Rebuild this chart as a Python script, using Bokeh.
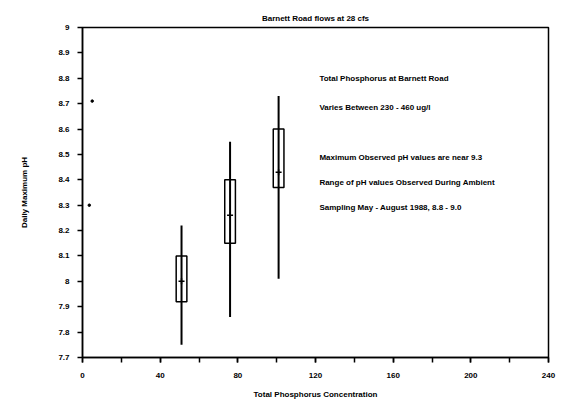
from bokeh.plotting import figure
from bokeh.models import FixedTicker, CustomJSTickFormatter, Label, ColumnDataSource
from bokeh.embed import file_html
from bokeh.resources import INLINE

# Data
tp_conc = [51, 76, 101]
ph_low = [7.75, 7.86, 8.01]
ph_q1 = [7.92, 8.15, 8.37]
ph_med = [8.00, 8.26, 8.43]
ph_q3 = [8.10, 8.40, 8.60]
ph_high = [8.22, 8.55, 8.73]

stray_x = [5, 3.5]
stray_y = [8.71, 8.30]

x_ticks = [0, 40, 80, 120, 160, 200, 240]
y_ticks = [7.7, 7.8, 7.9, 8.0, 8.1, 8.2, 8.3, 8.4, 8.5, 8.6, 8.7, 8.8, 8.9, 9.0]

notes = [
    ("Total Phosphorus at Barnett Road", 8.80),
    ("Varies Between 230 - 460 ug/l", 8.683),
    ("Maximum Observed pH values are near 9.3", 8.487),
    ("Range of pH values Observed During Ambient", 8.389),
    ("Sampling May - August 1988, 8.8 - 9.0", 8.291),
]

FONT = "Liberation Sans"

p = figure(width=566, height=404, output_backend="svg", toolbar_location=None,
           x_range=(0, 240), y_range=(7.7, 9.0),
           min_border_left=82, min_border_right=18, min_border_top=27, min_border_bottom=47,
           title="Barnett Road flows at 28 cfs")
p.title.align = "center"
p.title.text_font = FONT
p.title.text_font_size = "8px"
p.title.text_font_style = "bold"
p.title.text_color = "black"
p.title.offset = 0
p.title.standoff = 9

p.grid.visible = False
p.background_fill_color = "white"
p.border_fill_color = "white"
p.outline_line_color = "black"
p.outline_line_width = 1.5

p.xaxis.ticker = FixedTicker(ticks=x_ticks, minor_ticks=list(range(0, 241, 20)))
p.yaxis.ticker = FixedTicker(ticks=y_ticks)
p.yaxis.formatter = CustomJSTickFormatter(code="""
    return (Math.abs(tick - Math.round(tick)) < 1e-6) ? tick.toFixed(0) : tick.toFixed(1);
""")
for ax in (p.xaxis, p.yaxis):
    ax.axis_line_color = "black"
    ax.axis_line_width = 1.5
    ax.major_tick_line_color = "black"
    ax.major_tick_line_width = 1.5
    ax.minor_tick_line_color = "black"
    ax.minor_tick_line_width = 1.5
    ax.major_tick_in = 0
    ax.major_tick_out = 5
    ax.minor_tick_in = 0
    ax.minor_tick_out = 5
    ax.major_label_text_font = FONT
    ax.major_label_text_font_size = "8px"
    ax.major_label_text_font_style = "bold"
    ax.major_label_text_color = "black"
    ax.axis_label_text_font = FONT
    ax.axis_label_text_font_size = "8px"
    ax.axis_label_text_font_style = "bold"
    ax.axis_label_text_color = "black"
p.yaxis.minor_tick_out = 0
p.xaxis.axis_label = "Total Phosphorus Concentration"
p.yaxis.axis_label = "Daily Maximum pH"
p.xaxis.axis_label_standoff = 9
p.yaxis.axis_label_standoff = 26
p.xaxis.major_label_standoff = 10
p.yaxis.major_label_standoff = 8

src = ColumnDataSource(dict(x=tp_conc, low=ph_low, q1=ph_q1, med=ph_med, q3=ph_q3, high=ph_high))
p.segment(x0="x", y0="low", x1="x", y1="high", source=src, line_color="black", line_width=2)
p.vbar(x="x", width=5.5, bottom="q1", top="q3", source=src,
       fill_color=None, line_color="black", line_width=1.5)
p.scatter(x="x", y="med", source=src, marker="cross", size=6, line_color="black", line_width=1.5)

p.scatter(x=stray_x, y=stray_y, marker="circle", size=2.5, color="black")

for txt, yv in notes:
    p.add_layout(Label(x=122, y=yv, text=txt, text_font=FONT, text_font_size="8px",
                       text_font_style="bold", text_color="black", text_baseline="middle"))

open("out.html", "w").write(file_html(p, INLINE))
